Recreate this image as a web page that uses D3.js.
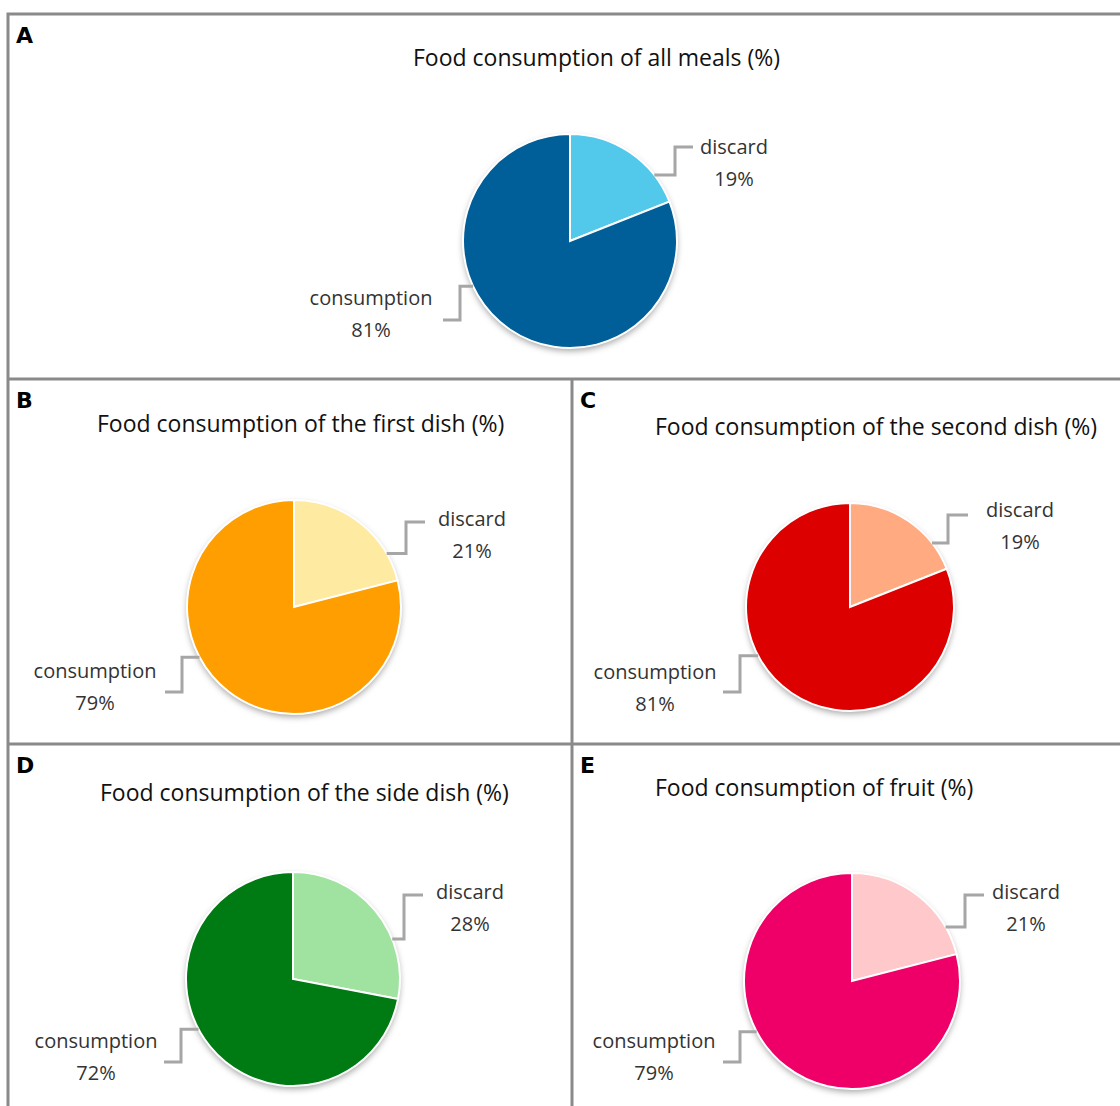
<!DOCTYPE html>
<html>
<head>
<meta charset="utf-8">
<script src="https://cdn.jsdelivr.net/npm/d3@7"></script>
<style>
  body { margin: 0; background: #fff; }
  svg { display: block; }
</style>
</head>
<body>
<div id="chart"></div>
<script>
// Food consumption pies, five panels A-E

const categories = ["discard", "consumption"];
const panelLetters = ["A", "B", "C", "D", "E"];
const panelTitles = [
    "Food consumption of all meals (%)",
    "Food consumption of the first dish (%)",
    "Food consumption of the second dish (%)",
    "Food consumption of the side dish (%)",
    "Food consumption of fruit (%)"
];
const discardValues = [19, 21, 19, 28, 21];
const consumptionValues = [81, 79, 81, 72, 79];

const colors = [
    ["#52c8eb", "#005e99"],
    ["#ffeaa1", "#ff9e00"],
    ["#ffaa80", "#dd0000"],
    ["#a0e3a0", "#007a12"],
    ["#ffc8cb", "#ee0068"]
];

const W = 1120, H = 1106;
const svg = d3.select("#chart").append("svg")
    .attr("width", W)
    .attr("height", H);

const defs = svg.append("defs");
defs.append("filter")
    .attr("id", "shadow")
    .attr("x", "-20%").attr("y", "-20%")
    .attr("width", "140%").attr("height", "150%")
    .append("feDropShadow")
    .attr("dx", 0).attr("dy", 3)
    .attr("stdDeviation", 3)
    .attr("flood-color", "#000")
    .attr("flood-opacity", 0.35);

// panel layout: box, pie center, title start
const panels = [
    { x: 8, y: 14, w: 1120, h: 365, cx: 570, cy: 241, r: 107, tx: 413, ty: 66, lx: 16,
      dLbl: [734, 147], cLbl: [371, 298], dLead: [52, 675, 693, 147], cLead: [245, 460, 443, 320] },
    { x: 8, y: 379, w: 564, h: 365, cx: 294, cy: 607, r: 107, tx: 97, ty: 432, lx: 16,
      dLbl: [472, 519], cLbl: [95, 671], dLead: [60, 406, 425, 522], cLead: [242, 182, 165, 692] },
    { x: 572, y: 379, w: 548, h: 365, cx: 850, cy: 607, r: 104, tx: 655, ty: 435, lx: 580,
      dLbl: [1020, 510], cLbl: [655, 672], dLead: [52, 948, 968, 515], cLead: [242, 740, 723, 692] },
    { x: 8, y: 744, w: 564, h: 362, cx: 293, cy: 979, r: 107, tx: 100, ty: 801, lx: 16,
      dLbl: [470, 892], cLbl: [96, 1041], dLead: [68, 404, 423, 895], cLead: [242, 181, 164, 1062] },
    { x: 572, y: 744, w: 548, h: 362, cx: 852, cy: 981, r: 108, tx: 655, ty: 796, lx: 580,
      dLbl: [1026, 892], cLbl: [654, 1041], dLead: [60, 965, 984, 895], cLead: [242, 740, 723, 1062] }
];

// borders
const border = svg.append("g")
    .attr("fill", "none")
    .attr("stroke", "#8a8a8a")
    .attr("stroke-width", 3);
border.append("path").attr("d", `M8,1106 V14 H1120`);
border.append("line").attr("x1", 8).attr("x2", 1120).attr("y1", 379).attr("y2", 379);
border.append("line").attr("x1", 8).attr("x2", 1120).attr("y1", 744).attr("y2", 744);
border.append("line").attr("x1", 572).attr("x2", 572).attr("y1", 379).attr("y2", 1106);

const pie = d3.pie().sort(null).value(d => d.value);
const fmt = d => d + "%";

panels.forEach((p, i) => {
    const g = svg.append("g");

    // letter
    g.append("text")
        .attr("x", p.lx)
        .attr("y", p.y + 29)
        .style("font-family", "'DejaVu Sans', sans-serif")
        .style("font-weight", "bold")
        .style("font-size", "22px")
        .attr("fill", "#000")
        .text(panelLetters[i]);

    // title
    g.append("text")
        .attr("x", p.tx)
        .attr("y", p.ty)
        .style("font-family", "'Open Sans', sans-serif")
        .style("font-size", "23px")
        .attr("fill", "#111")
        .text(panelTitles[i]);

    const data = categories.map((c, k) => ({
        cat: c,
        value: k === 0 ? discardValues[i] : consumptionValues[i],
        color: colors[i][k]
    }));

    const arc = d3.arc().innerRadius(0).outerRadius(p.r);
    const pg = g.append("g")
        .attr("transform", `translate(${p.cx},${p.cy})`);

    pg.append("circle")
        .attr("r", p.r)
        .attr("fill", "#fff")
        .attr("filter", "url(#shadow)");

    pg.selectAll("path")
        .data(pie(data))
        .join("path")
        .attr("d", arc)
        .attr("fill", d => d.data.color)
        .attr("stroke", "#fff")
        .attr("stroke-width", 2);

    // leader lines
    const lead = (spec) => {
        const a = spec[0] * Math.PI / 180;
        const sx = p.cx + Math.sin(a) * p.r;
        const sy = p.cy - Math.cos(a) * p.r;
        return `M${sx},${sy} H${spec[1]} V${spec[3]} H${spec[2]}`;
    };
    g.append("path")
        .attr("d", lead(p.dLead))
        .attr("fill", "none")
        .attr("stroke", "#a6a6a6")
        .attr("stroke-width", 3);
    g.append("path")
        .attr("d", lead(p.cLead))
        .attr("fill", "none")
        .attr("stroke", "#a6a6a6")
        .attr("stroke-width", 3);

    // labels
    const lbl = (pos, name, val) => {
        const t = g.append("text")
            .attr("text-anchor", "middle")
            .style("font-family", "'Open Sans', sans-serif")
            .style("font-size", "20px")
            .attr("fill", "#333");
        t.append("tspan").attr("x", pos[0]).attr("y", pos[1] + 7).text(name);
        t.append("tspan").attr("x", pos[0]).attr("y", pos[1] + 39).text(fmt(val));
    };
    lbl(p.dLbl, categories[0], discardValues[i]);
    lbl(p.cLbl, categories[1], consumptionValues[i]);
});
</script>
</body>
</html>
